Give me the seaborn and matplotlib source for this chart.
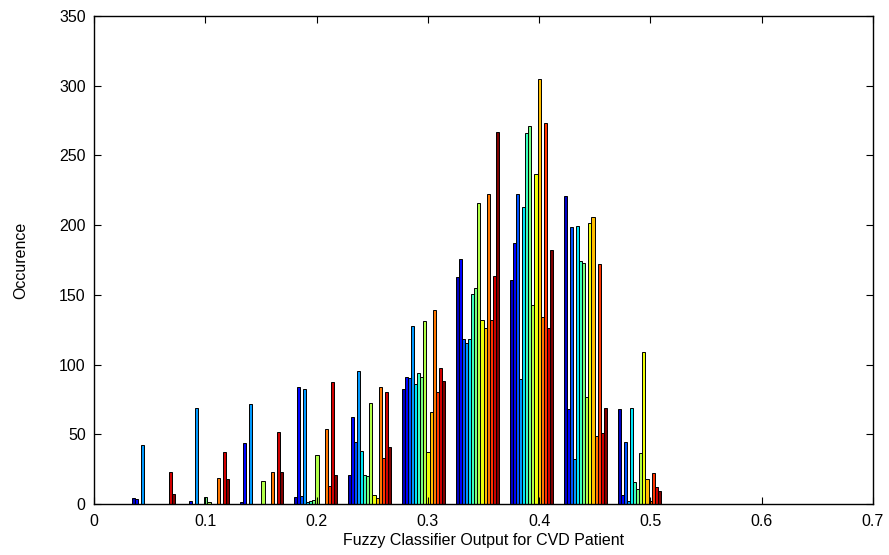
import numpy as np
import pandas as pd
import matplotlib
matplotlib.use("Agg")
import matplotlib.pyplot as plt
import seaborn as sns

# bin centres of the histogram (10 bins)
bin_centers = [0.0535, 0.102, 0.1505, 0.199, 0.2475, 0.296, 0.3445, 0.393, 0.4415, 0.49]

# counts per bin for each of the 14 columns
counts_bin1 = [4.5, 3.5, 0, 42, 0, 0, 0, 0, 0, 0, 0, 0, 23, 7]
counts_bin2 = [0, 2.4, 0, 69, 0, 0, 5, 1.5, 0, 0, 19, 0, 37, 18]
counts_bin3 = [1.5, 44, 0, 72, 0, 0, 0, 16.8, 0, 0, 23, 0, 51.6, 23]
counts_bin4 = [4.8, 84, 5.8, 82.7, 1.5, 2, 3, 35, 0, 0, 53.6, 12.9, 87.5, 21]
counts_bin5 = [20.8, 62.6, 44.2, 95.2, 38.3, 20.8, 20, 72.2, 6.2, 4.5, 84.2, 32.8, 80.1, 41.1]
counts_bin6 = [82.5, 91.3, 90.1, 128, 86, 94.2, 91.3, 131, 37, 65.7, 139.4, 80, 97.3, 88.2]
counts_bin7 = [162.6, 176, 118.6, 115.8, 118.6, 150.5, 154.6, 216, 132, 126, 222, 132, 163.8, 267]
counts_bin8 = [160.7, 187.5, 222, 90, 213, 266, 270.8, 142.7, 237, 304.6, 134, 273.5, 126.5, 182]
counts_bin9 = [221, 68, 198.7, 32, 199.4, 174.3, 172.9, 77, 201.8, 205.7, 48.8, 172, 50.7, 68.9]
counts_bin10 = [68, 6.5, 44.5, 2, 69, 16, 11, 36.5, 109, 18, 2, 22, 12, 9]

all_counts = [counts_bin1, counts_bin2, counts_bin3, counts_bin4, counts_bin5,
              counts_bin6, counts_bin7, counts_bin8, counts_bin9, counts_bin10]
series_names = ["c%d" % (i + 1) for i in range(14)]

rows = []
for c, vals in zip(bin_centers, all_counts):
    for name, v in zip(series_names, vals):
        rows.append({"center": c, "series": name, "count": v})
df = pd.DataFrame(rows)

# jet colours, navy -> maroon
colors = [plt.cm.jet(t) for t in np.linspace(0.06, 1.0, 14)]

fig = plt.figure(figsize=(8.89, 5.55), dpi=100)
ax = fig.add_axes([0.1057, 0.0919, 0.8763, 0.8793])

sns.barplot(data=df, x="center", y="count", hue="series", hue_order=series_names,
            native_scale=True, palette=colors, saturation=1, width=0.8, gap=0,
            dodge=True, edgecolor="black", linewidth=0.7, errorbar=None,
            legend=False, ax=ax)

ax.set_xlim(0, 0.7)
ax.set_ylim(0, 350)
ax.set_xticks(np.arange(0, 0.71, 0.1))
ax.set_xticklabels(["0", "0.1", "0.2", "0.3", "0.4", "0.5", "0.6", "0.7"])
ax.set_yticks(np.arange(0, 351, 50))
ax.tick_params(direction="in", top=True, right=True, length=5, width=0.8,
               labelsize=11.5)
ax.tick_params(axis="x", pad=7)
ax.tick_params(axis="y", pad=6)
for sp in ax.spines.values():
    sp.set_linewidth(1.0)
    sp.set_visible(True)

ax.set_xlabel("Fuzzy Classifier Output for CVD Patient", fontsize=11.5, labelpad=3)
ax.set_ylabel("Occurence", fontsize=11.5, labelpad=22)

for lab in ax.get_xticklabels() + ax.get_yticklabels():
    lab.set_family("Liberation Sans")
ax.xaxis.label.set_family("Liberation Sans")
ax.yaxis.label.set_family("Liberation Sans")

fig.savefig("out.png", dpi=100)
